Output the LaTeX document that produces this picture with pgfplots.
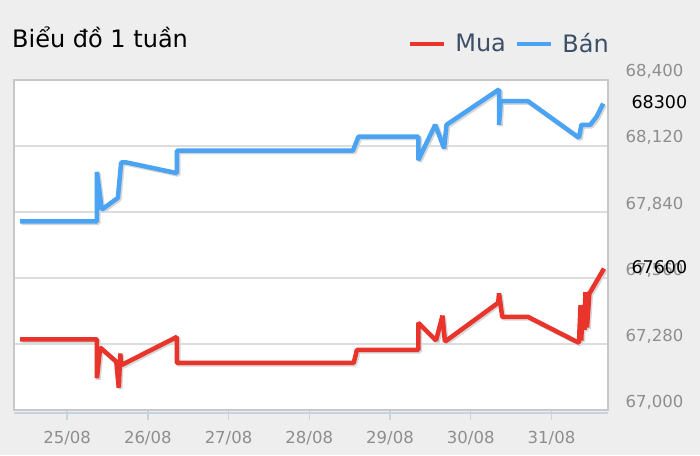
\documentclass[border=0pt]{standalone}
\usepackage{pgfplots}
\pgfplotsset{compat=1.18}
\usepackage{fontspec}
\setmainfont{DejaVu Sans}

\definecolor{bgcol}{HTML}{EEEEEE}
\definecolor{bordercol}{HTML}{C8C8C8}
\definecolor{gridcol}{HTML}{DDDDDD}
\definecolor{xaxiscol}{HTML}{C5D3E2}
\definecolor{tickcol}{HTML}{8E8E8E}
\definecolor{legcol}{HTML}{3D4F66}
\definecolor{muacol}{HTML}{E8342A}
\definecolor{bancol}{HTML}{4BA3F4}

% Mua (buy) price, x = days after 25/08
\pgfplotstableread{
x y
-0.58 67300
0.37 67300
0.37 67135
0.41 67265
0.61 67205
0.64 67095
0.66 67240
0.67 67190
1.36 67310
1.36 67200
3.55 67200
3.59 67255
4.35 67255
4.35 67370
4.57 67295
4.65 67400
4.68 67290
5.34 67455
5.35 67495
5.39 67395
5.71 67395
6.34 67285
6.36 67445
6.37 67295
6.38 67445
6.41 67340
6.42 67500
6.44 67350
6.47 67500
6.48 67500
6.65 67600
}\mua

% Ban (sell) price
\pgfplotstableread{
x y
-0.58 67800
0.37 67800
0.37 68010
0.43 67850
0.63 67900
0.64 67940
0.67 68050
0.74 68050
1.36 68005
1.36 68100
3.54 68100
3.61 68160
4.35 68160
4.35 68060
4.56 68210
4.67 68110
4.70 68210
5.35 68360
5.35 68210
5.37 68310
5.71 68310
6.34 68155
6.37 68210
6.48 68210
6.56 68245
6.64 68300
}\ban

\begin{document}
\begin{tikzpicture}
  \fill[bgcol] (0pt,0pt) rectangle (700pt,455pt);
  \useasboundingbox (0pt,0pt) rectangle (700pt,455pt);
  \node[anchor=base west, font=\fontsize{24}{28}\selectfont, inner sep=0pt] at (12pt,407pt) {Biểu đồ 1 tuần};
  \begin{axis}[
      at={(14pt,45pt)}, anchor=south west,
      scale only axis, width=594pt, height=330pt,
      xmin=-0.657, xmax=6.70,
      ymin=67000, ymax=68400,
      axis background/.style={fill=white},
      axis line style={bordercol, line width=2pt},
      clip=false,
      xtick={0,1,...,6},
      xticklabels={25/08,26/08,27/08,28/08,29/08,30/08,31/08},
      xtick pos=bottom,
      tick align=outside,
      major tick length=10pt,
      xtick style={xaxiscol, line width=1.5pt},
      ytick={67000,67280,67560,67840,68120,68400},
      ytick style={draw=none},
      yticklabel pos=right,
      scaled y ticks=false,
      ymajorgrids,
      grid style={gridcol, line width=1.5pt},
      /pgf/number format/assume math mode=true,
      /pgf/number format/fixed,
      /pgf/number format/1000 sep={,},
      ticklabel style={tickcol, font=\fontsize{16.5}{19}\selectfont},
      yticklabel style={anchor=base west, xshift=4pt, yshift=3pt},
      xticklabel style={anchor=base, yshift=-23pt},
      legend columns=-1,
      legend style={at={(rel axis cs:1,1)}, anchor=east, yshift=36pt, xshift=6pt,
        draw=none, fill=none, text=legcol, font=\fontsize{24}{28}\selectfont,
        /tikz/every odd column/.append style={column sep=7pt},
        /tikz/every even column/.append style={column sep=7pt}},
      legend image code/.code={\draw[#1, line width=4.5pt] (0pt,0pt) -- (34pt,0pt);},
    ]
    \addplot[black!16, line width=4.5pt, line join=bevel, xshift=1.5pt, yshift=-1.5pt, forget plot] table {\mua};
    \addplot[black!16, line width=4.5pt, line join=bevel, xshift=1.5pt, yshift=-1.5pt, forget plot] table {\ban};
    \addplot[muacol, line width=4.5pt, line join=bevel] table {\mua};
    \addlegendentry{Mua}
    \addplot[bancol, line width=4.5pt, line join=bevel] table {\ban};
    \addlegendentry{Bán}
    \draw[xaxiscol, line width=2pt] ([yshift=-3pt]rel axis cs:0,0) -- ([yshift=-3pt]rel axis cs:1,0);
    \node[anchor=base west, xshift=20pt, yshift=-5pt, font=\fontsize{17.5}{20}\selectfont] at (axis cs:6.70,68300) {68300};
    \node[anchor=base west, xshift=20pt, yshift=-5pt, font=\fontsize{17.5}{20}\selectfont] at (axis cs:6.70,67600) {67600};
  \end{axis}
\end{tikzpicture}
\end{document}
